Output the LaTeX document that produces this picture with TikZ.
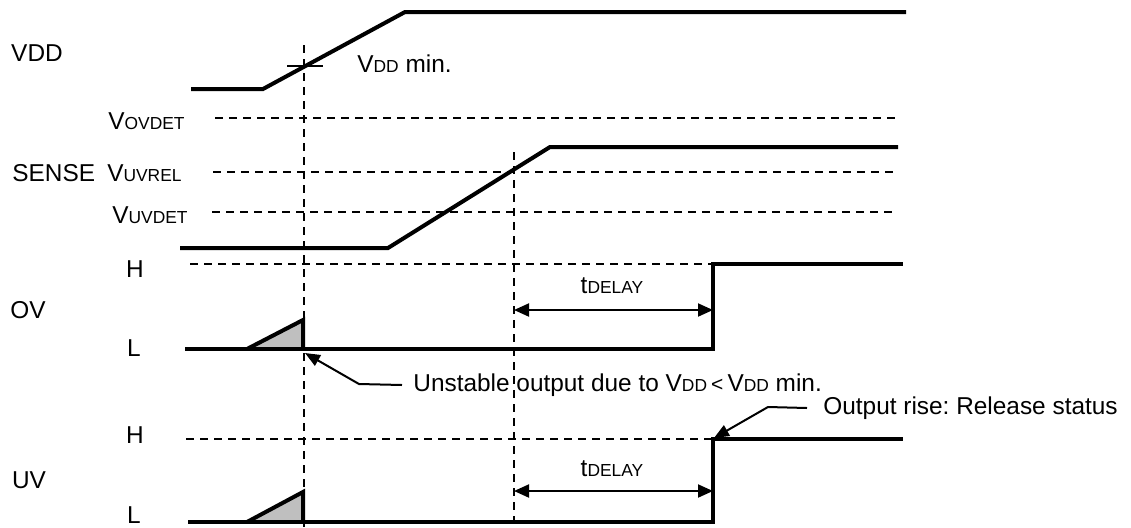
\documentclass[tikz,border=0pt]{standalone}
\usepackage{fontspec}
\setmainfont{Liberation Sans}
\usetikzlibrary{arrows.meta,positioning}
\newcommand{\lo}[1]{{\fontsize{8.7pt}{10pt}\selectfont #1}}
\frenchspacing

\begin{document}
\begin{tikzpicture}[x=0.5pt, y=-0.5pt,
  every node/.style={font=\fontsize{12.2pt}{14pt}\selectfont, inner sep=0pt},
  sig/.style={line width=2pt},
  lvl/.style={dash pattern=on 4pt off 3pt, line width=0.8pt},
  dim/.style={{Triangle[length=7.5pt,width=6.5pt]}-{Triangle[length=7.5pt,width=6.5pt]}, line width=1pt},
  lead/.style={-{Triangle[length=7.5pt,width=6pt]}, line width=1pt}]
  \useasboundingbox (0,0) rectangle (1131,527);

  % signal names
  \node (vdd) at (37,53) {VDD};
  \node[anchor=west] (sense) at (12,173) {SENSE};
  \node (ov) at (28,310) {OV};
  \node (uv) at (29,480) {UV};
  \node (ovh) at (135,269) {H};
  \node (ovl) at (134,348) {L};
  \node (uvh) at (135,435) {H};
  \node (uvl) at (134,515) {L};

  % levels
  \node[anchor=east] (ovdet) at (185,121) {V\lo{OVDET}};
  \node[anchor=east] (uvrel) at (182,173) {V\lo{UVREL}};
  \node[anchor=east] (uvdet) at (188,215) {V\lo{UVDET}};
  \draw[lvl] (215,118) -- (897,118);
  \draw[lvl] (213,172) -- (895,172);
  \draw[lvl] (212,212) -- (893,212);
  \draw[lvl] (190,264) -- (713,264);
  \draw[lvl] (186,439) -- (713,439);

  % time markers
  \draw[lvl] (304,45) -- (304,527);
  \draw[lvl] (514,152) -- (514,527);

  % VDD
  \draw[sig] (191,89) -- (263,89) -- (405,12) -- (906,12);
  \draw[line width=0.8pt] (287,66) -- (323,66);
  \node[anchor=west] (vmin) at (357,64) {V\lo{DD} min.};

  % SENSE
  \draw[sig] (180,248) -- (388,248) -- (550,147) -- (898,147);

  % OV
  \draw[sig, fill=black!25] (247,349) -- (303,320) -- (303,349);
  \draw[sig] (185,349) -- (713,349) -- (713,264) -- (903,264);
  \coordinate (ovs) at (514,310);
  \coordinate (ove) at (713,310);
  \draw[dim] (ovs) -- (ove);
  \node (ovdly) at (612,286) {t\lo{DELAY}};

  % UV
  \draw[sig, fill=black!25] (247,522) -- (303,492) -- (303,522);
  \draw[sig] (188,522) -- (713,522) -- (713,439) -- (903,439);
  \coordinate (uvs) at (514,491);
  \coordinate (uve) at (713,491);
  \draw[dim] (uvs) -- (uve);
  \node (uvdly) at (612,469) {t\lo{DELAY}};

  % notes
  \node[anchor=west] (unst) at (413,385) {Unstable output due to V\lo{DD}\,{\fontsize{10.5pt}{12pt}\selectfont<}\,V\lo{DD} min.};
  \coordinate (unstk) at (359,384);
  \coordinate (unstp) at (305,353);
  \draw[lead] ([xshift=-5.5pt]unst.west) -- (unstk) -- (unstp);
  \node[anchor=west] (rel) at (823,408) {Output rise: Release status};
  \coordinate (relk) at (768,407);
  \coordinate (relp) at (714,438);
  \draw[lead] ([xshift=-8pt]rel.west) -- (relk) -- (relp);
\end{tikzpicture}
\end{document}
